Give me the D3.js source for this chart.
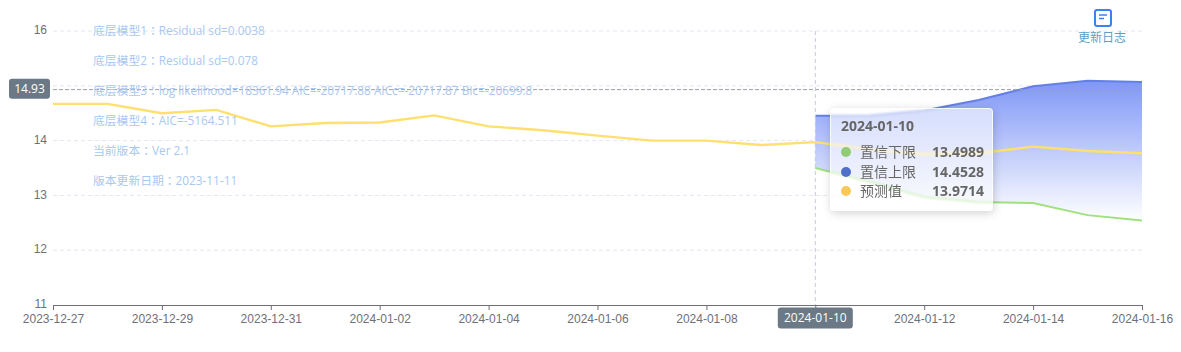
<!DOCTYPE html>
<html>
<head>
<meta charset="utf-8">
<script src="https://cdn.jsdelivr.net/npm/d3@7"></script>
<style>
  html, body { margin: 0; padding: 0; background: #fff; overflow: hidden; }
  #chart { position: relative; width: 1181px; height: 352px; font-family: "Open Sans", "Noto Sans CJK TC", sans-serif; }
  #tooltip {
    position: absolute; left: 830px; top: 108px; width: 163px; height: 103px; box-sizing: border-box;
    background: rgba(255,255,255,0.6); border-radius: 4px; border: 1px solid rgba(255,255,255,0.75);
    box-shadow: 1px 2px 10px rgba(0,0,0,0.18); backdrop-filter: blur(1px); color: #666;
  }
  #tooltip .title { position: absolute; left: 10px; top: 7px; font-size: 14px; font-weight: 700; color: #666; }
  #tooltip .row { position: absolute; left: 10px; width: 143px; height: 20px; line-height: 20px; font-size: 14px; }
  #tooltip .dot { position: absolute; left: 0; top: 5px; width: 10px; height: 10px; border-radius: 50%; }
  #tooltip .name { position: absolute; left: 19px; }
  #tooltip .val { position: absolute; right: 0; font-weight: 700; }
</style>
</head>
<body>
<div id="chart"></div>
<script>
const dates = ["2023-12-27","2023-12-28","2023-12-29","2023-12-30","2023-12-31","2024-01-01","2024-01-02",
  "2024-01-03","2024-01-04","2024-01-05","2024-01-06","2024-01-07","2024-01-08","2024-01-09","2024-01-10",
  "2024-01-11","2024-01-12","2024-01-13","2024-01-14","2024-01-15","2024-01-16"];
const predicted = [14.67,14.67,14.50,14.56,14.26,14.32,14.33,14.46,14.26,14.19,14.09,14.0,14.0,13.92,13.9714,
  13.84,13.75,13.77,13.89,13.81,13.77];
const forecastDates = dates.slice(14);
const upper = [14.4528,14.46,14.55,14.74,14.99,15.09,15.07];
const lower = [13.4989,13.25,12.97,12.88,12.86,12.64,12.54];
const yTicks = [11,12,13,14,15,16];
const notes = ["底层模型1：Residual sd=0.0038","底层模型2：Residual sd=0.078",
  "底层模型3：log likelihood=18361.94 AIC=-20717.88 AICc=-20717.87 BIc=-20699.8",
  "底层模型4：AIC=-5164.511","当前版本：Ver 2.1","版本更新日期：2023-11-11"];
const tipRows = [["置信下限","13.4989","#91cc75"],["置信上限","14.4528","#4f6fc9"],["预测值","13.9714","#fac858"]];
const yTickLabels = { 11: "11", 12: "12", 13: "13", 14: "14", 16: "16" };
const hoverDate = "2024-01-10", hoverY = 14.93;

let margin = { top: 31, right: 39, bottom: 47, left: 53 },
  width = 1181 - margin.left - margin.right,
  height = 352 - margin.top - margin.bottom;

let root = d3.select("#chart").append("svg").attr("width", 1181).attr("height", 352)
  .style("display", "block");
let svg = root.append("g").attr("transform", "translate(" + margin.left + "," + margin.top + ")");

let x = d3.scalePoint().domain(dates).range([0, width]);
let y = d3.scaleLinear().domain([11, 16]).range([height, 0]);

let grad = root.append("defs").append("linearGradient").attr("id", "band")
  .attr("x1", 0).attr("y1", 0).attr("x2", 0).attr("y2", 1);
grad.append("stop").attr("offset", "0%").attr("stop-color", "#7f97f6");
grad.append("stop").attr("offset", "100%").attr("stop-color", "#ffffff");

// GRID
svg.selectAll(".grid").data(yTicks.slice(1)).enter().append("line")
  .attr("class", "grid")
  .attr("x1", 0).attr("x2", width)
  .attr("y1", d => y(d)).attr("y2", d => y(d))
  .attr("stroke", "#e4e6f3").attr("stroke-dasharray", "4,3");

// BAND
let area = d3.area()
  .x((d, i) => x(forecastDates[i]))
  .y0((d, i) => y(lower[i]))
  .y1((d, i) => y(upper[i]));
svg.append("path").datum(upper).attr("d", area).attr("fill", "url(#band)");

let line = d3.line().x(d => x(d[0])).y(d => y(d[1]));
svg.append("path").attr("d", line(d3.zip(forecastDates, upper)))
  .attr("fill", "none").attr("stroke", "#6580e4").attr("stroke-width", 2);
svg.append("path").attr("d", line(d3.zip(forecastDates, lower)))
  .attr("fill", "none").attr("stroke", "#9fe080").attr("stroke-width", 2);
svg.append("path").attr("d", line(d3.zip(dates, predicted)))
  .attr("fill", "none").attr("stroke", "#ffdf6e").attr("stroke-width", 2.4);

// AXIS
let xAxis = d3.axisBottom(x).tickValues(dates.filter((d, i) => i % 2 == 0)).tickSize(5).tickPadding(4);
let xAxisGroup = svg.append("g").attr("transform", "translate(0," + height + ")").call(xAxis);
xAxisGroup.select(".domain").attr("stroke", "#6e7079").attr("d", "M0,0.5H" + width);
xAxisGroup.selectAll("line").attr("stroke", "#6e7079");
xAxisGroup.selectAll("text").attr("fill", "#6e7079").style("font-size", "12px").style("font-family", "inherit");

let yAxis = d3.axisLeft(y).tickValues(yTicks.filter(d => yTickLabels[d])).tickSize(0).tickPadding(6)
  .tickFormat(d => yTickLabels[d]);
let yAxisGroup = svg.append("g").call(yAxis);
yAxisGroup.select(".domain").remove();
yAxisGroup.selectAll("text").attr("fill", "#6e7079").attr("dy", "0.22em").style("font-size", "12px").style("font-family", "inherit");

// CROSSHAIR
svg.append("line").attr("x1", 0).attr("x2", width).attr("y1", y(hoverY)).attr("y2", y(hoverY))
  .attr("stroke", "#9a9ea6").attr("stroke-dasharray", "4,2");
svg.append("line").attr("x1", x(hoverDate)).attr("x2", x(hoverDate)).attr("y1", 0).attr("y2", height)
  .attr("stroke", "#c6c9e0").attr("stroke-dasharray", "4,3");

function axisTag(cx, cy, w, h, label) {
  svg.append("rect").attr("x", cx - w / 2).attr("y", cy - h / 2).attr("width", w).attr("height", h)
    .attr("rx", 3).attr("fill", "#6a7985");
  svg.append("text").attr("x", cx).attr("y", cy).attr("dy", "0.35em").attr("text-anchor", "middle")
    .attr("fill", "#fff").style("font-size", "12px").text(label);
}
axisTag(-23.5, y(hoverY) - 1, 41, 20, hoverY);
axisTag(x(hoverDate), 287, 75, 21, hoverDate);

// NOTES
root.selectAll(".note").data(notes).enter().append("text")
  .attr("class", "note")
  .attr("x", 93).attr("y", (d, i) => 31 + i * 30).attr("dy", "0.35em")
  .attr("fill", "#a8c8f2").style("font-size", "11.8px")
  .text(d => d);

// UPDATE LOG ICON
let icon = root.append("g").attr("transform", "translate(1094,9)");
icon.append("rect").attr("x", 1).attr("y", 1).attr("width", 16).attr("height", 16).attr("rx", 2)
  .attr("fill", "none").attr("stroke", "#3b82f0").attr("stroke-width", 2);
icon.append("path").attr("d", "M5,6H13M5,9.5H10").attr("stroke", "#3b82f0").attr("stroke-width", 1.6);
root.append("text").attr("x", 1102).attr("y", 38).attr("dy", "0.35em").attr("text-anchor", "middle")
  .attr("fill", "#5b9fc4").style("font-size", "12px").text("更新日志");

// TOOLTIP
let tip = d3.select("#chart").append("div").attr("id", "tooltip");
tip.append("div").attr("class", "title").text(hoverDate);
let rows = tip.selectAll(".row").data(tipRows).enter().append("div")
  .attr("class", "row").style("top", (d, i) => 33 + i * 19.5 + "px");
rows.append("span").attr("class", "dot").style("background", d => d[2]);
rows.append("span").attr("class", "name").text(d => d[0]);
rows.append("span").attr("class", "val").text(d => d[1]);
</script>
</body>
</html>
